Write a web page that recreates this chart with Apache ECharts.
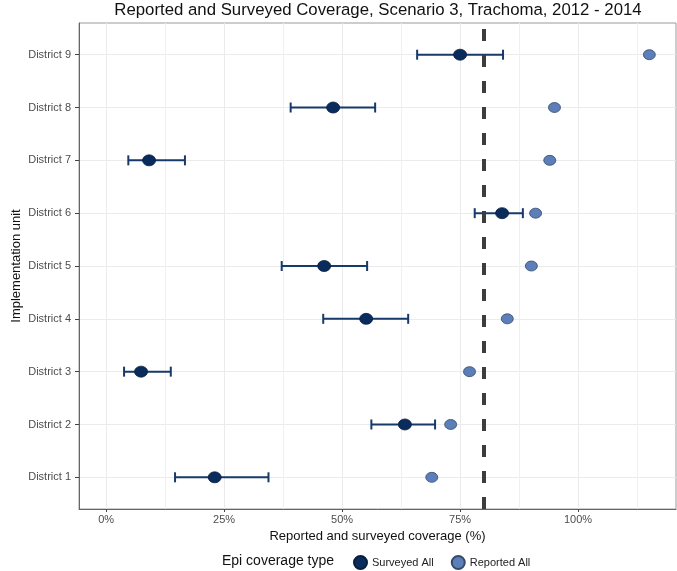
<!DOCTYPE html>
<html>
<head>
<meta charset="utf-8">
<script src="https://cdn.jsdelivr.net/npm/echarts@6/dist/echarts.min.js"></script>
<style>
html,body{margin:0;padding:0;background:#fff;}
#chart{width:677px;height:571px;}
</style>
</head>
<body>
<div id="chart"></div>
<script>
// ---- data ----
const districts = ["District 1","District 2","District 3","District 4","District 5","District 6","District 7","District 8","District 9"];
const surveyed   = [23.0, 63.3, 7.4, 55.1, 46.2, 83.9, 9.1, 48.1, 75.0];
const surveyedLo = [14.6, 56.2, 3.8, 46.0, 37.2, 78.1, 4.7, 39.1, 65.9];
const surveyedHi = [34.4, 69.7, 13.7, 64.0, 55.3, 88.3, 16.7, 57.0, 84.1];
const reported   = [69.0, 73.0, 77.0, 85.0, 90.1, 91.0, 94.0, 95.0, 115.1];
const targetLine = 80;
const xTicks = [0, 25, 50, 75, 100];
const xMinorTicks = [12.5, 37.5, 62.5, 87.5, 112.5];
const seriesNames = ["Surveyed All", "Reported All"];

const FONT = "'Liberation Sans', Arial, sans-serif";
const yPos = districts.map((d, i) => i + 1);

const chart = echarts.init(document.getElementById('chart'));
const option = {
  animation: false,
  textStyle: { fontFamily: FONT },
  title: {
    text: "Reported and Surveyed Coverage, Scenario 3, Trachoma, 2012 - 2014",
    left: 378, top: 2, textAlign: 'center', padding: 0,
    textStyle: { fontSize: 16.8, fontWeight: 'normal', color: '#111', fontFamily: FONT }
  },
  graphic: [{
    type: 'text', left: 222, top: 554,
    style: { text: 'Epi coverage type', fontSize: 14, fill: '#111', fontFamily: FONT }
  }],
  legend: {
    left: 353, top: 555, padding: 0,
    itemWidth: 13, itemHeight: 13, itemGap: 17,
    icon: 'circle',
    textStyle: { fontSize: 11, color: '#222', fontFamily: FONT },
    data: seriesNames
  },
  grid: {
    left: 79, right: 1, top: 23, bottom: 62,
    outerBoundsMode: 'none',
    show: true, borderColor: '#9a9a9a', borderWidth: 1, containLabel: false
  },
  xAxis: [{
    type: 'value', min: -5.75, max: 120.75,
    name: 'Reported and surveyed coverage (%)', nameLocation: 'middle', nameGap: 19,
    nameTextStyle: { fontSize: 13, color: '#111', fontFamily: FONT },
    axisLine: { show: true, onZero: false, lineStyle: { color: '#666', width: 1 } },
    axisTick: { show: true, length: 3, customValues: xTicks, lineStyle: { color: '#444' } },
    axisLabel: { customValues: xTicks, formatter: v => v + '%', fontSize: 11, color: '#4d4d4d', margin: 5 },
    splitLine: { show: true, lineStyle: { color: '#ebebeb', width: 1 } }
  }, {
    type: 'value', min: -5.75, max: 120.75, position: 'bottom',
    axisLine: { show: false }, axisLabel: { show: false },
    axisTick: { show: false, customValues: xMinorTicks },
    splitLine: { show: true, lineStyle: { color: '#f0f0f0', width: 1 } }
  }],
  yAxis: {
    type: 'value', min: 0.4, max: 9.6,
    name: 'Implementation unit', nameLocation: 'middle', nameGap: 56, nameRotate: 90,
    nameMoveOverlap: false,
    nameTextStyle: { fontSize: 13, color: '#111', fontFamily: FONT },
    axisLine: { show: true, onZero: false, lineStyle: { color: '#666', width: 1 } },
    axisTick: { show: true, length: 4, customValues: yPos, lineStyle: { color: '#444' } },
    axisLabel: { customValues: yPos, formatter: v => districts[Math.round(v) - 1] || '', fontSize: 11, color: '#4d4d4d', margin: 8 },
    splitLine: { show: true, lineStyle: { color: '#ebebeb', width: 1 } }
  },
  series: [
    {
      name: 'errbar', type: 'custom', silent: true, z: 3,
      data: yPos.map((y, i) => [surveyedLo[i], surveyedHi[i], y]),
      encode: { x: [0, 1], y: 2 },
      renderItem: function (params, api) {
        const y = api.value(2);
        const p1 = api.coord([api.value(0), y]);
        const p2 = api.coord([api.value(1), y]);
        const h = 5;
        const st = { stroke: '#173a6b', lineWidth: 2 };
        return {
          type: 'group', children: [
            { type: 'line', shape: { x1: p1[0], y1: p1[1], x2: p2[0], y2: p2[1] }, style: st },
            { type: 'line', shape: { x1: p1[0], y1: p1[1] - h, x2: p1[0], y2: p1[1] + h }, style: st },
            { type: 'line', shape: { x1: p2[0], y1: p2[1] - h, x2: p2[0], y2: p2[1] + h }, style: st }
          ]
        };
      }
    },
    {
      name: 'target', type: 'line', data: [], z: 4,
      markLine: {
        silent: true, symbol: 'none', label: { show: false },
        lineStyle: { color: '#3d3d3d', width: 4, type: [12, 14] },
        data: [{ xAxis: targetLine }]
      }
    },
    {
      name: seriesNames[0], type: 'scatter', z: 5,
      symbol: 'circle', symbolSize: [13, 11],
      itemStyle: { color: '#0a2c5c', borderColor: '#061d3d', borderWidth: 0.8, opacity: 1 },
      data: yPos.map((y, i) => [surveyed[i], y])
    },
    {
      name: seriesNames[1], type: 'scatter', z: 5,
      symbol: 'circle', symbolSize: [12, 10],
      itemStyle: { color: '#5d7fb9', borderColor: '#34496b', borderWidth: 0.8, opacity: 1 },
      data: yPos.map((y, i) => [reported[i], y])
    }
  ]
};
chart.setOption(option);
</script>
</body>
</html>
